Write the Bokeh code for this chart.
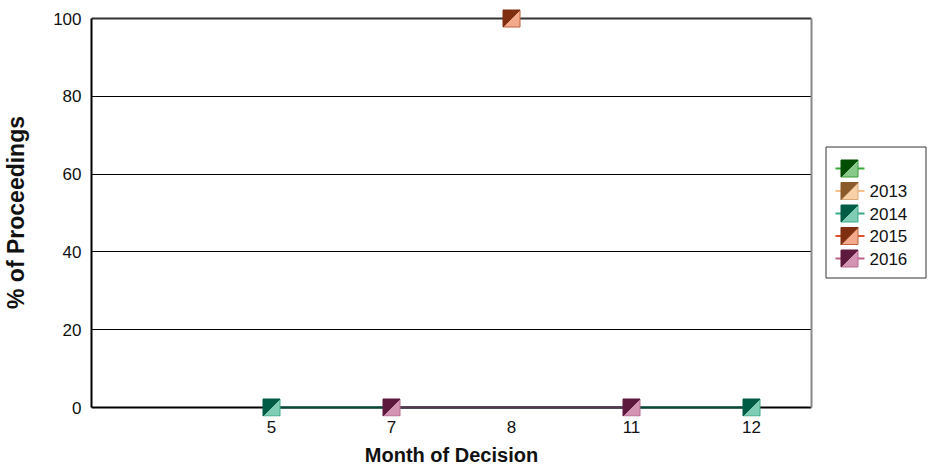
from bokeh.plotting import figure
from bokeh.layouts import row
from bokeh.models import Range1d, FixedTicker, LinearAxis, Span
from bokeh.core.properties import value
from bokeh.embed import file_html
from bokeh.resources import INLINE

# ---------------- data ----------------
months = ["", "5", "7", "8", "11", "12"]          # x categories (tick labels)
series_names = ["", "2013", "2014", "2015", "2016"]
v_blank = [None, None, None, None, None, None]
v_2013 = [None, None, None, None, None, None]
v_2014 = [None, 0, None, None, None, 0]
v_2015 = [None, None, None, 100, None, None]
v_2016 = [None, None, 0, None, 0, None]
series_values = [v_blank, v_2013, v_2014, v_2015, v_2016]
y_ticks = [0, 20, 40, 60, 80, 100]

# ---------------- styles ----------------
dark = ["#004d00", "#8b5a2b", "#005c45", "#7f2f0f", "#5e1a3e"]
light = ["#88c888", "#f8d0a8", "#7fcdb5", "#f2a98c", "#d393b3"]
edge = ["#3a9a3a", "#d8a878", "#40a88a", "#c0603c", "#b86a90"]
legend_line = ["#3aaa3a", "#f8c088", "#3aaa8a", "#e0502a", "#c0608a"]
plot_line = ["#004d00", "#8b5a2b", "#004d3a", "#7f2f0f", "#5b3553"]

FONT = "Liberation Sans"
FRAME_W = 720
CORE_H = 389          # pixel height of 0..100
PAD_T, PAD_B = 10, 9  # extra pixels above/below so markers are not clipped
FRAME_H = CORE_H + PAD_T + PAD_B
HALF = 8.5            # half marker size in px
TOP = 8
BOTTOM = 40

y_min, y_max = y_ticks[0], y_ticks[-1]
upp = (y_max - y_min) / CORE_H   # data units per pixel
x_start, x_end = 0, len(months)
y_start, y_end = y_min - PAD_B * upp, y_max + PAD_T * upp

p = figure(frame_width=FRAME_W, frame_height=FRAME_H,
           x_range=Range1d(x_start, x_end), y_range=Range1d(y_start, y_end),
           output_backend="svg", toolbar_location=None,
           min_border_left=83, min_border_right=10, min_border_top=TOP, min_border_bottom=BOTTOM)
p.outline_line_color = None

# x axis
xa = p.xaxis[0]
xa.ticker = FixedTicker(ticks=[i + 0.5 for i in range(len(months))])
xa.major_label_overrides = {i + 0.5: m for i, m in enumerate(months)}
xa.axis_line_color = None
xa.major_tick_line_color = None
xa.minor_tick_line_color = None
xa.major_label_standoff = -2
xa.major_label_text_font = FONT
xa.major_label_text_font_size = "17px"
xa.major_label_text_color = "#111111"
xa.axis_label = "Month of Decision"
xa.axis_label_text_font = FONT
xa.axis_label_text_font_style = "bold"
xa.axis_label_text_font_size = "20px"
xa.axis_label_text_color = "#111111"
xa.axis_label_standoff = 8

# y axis
ya = p.yaxis[0]
ya.ticker = FixedTicker(ticks=y_ticks)
ya.bounds = (y_min, y_max)
ya.axis_line_color = "black"
ya.axis_line_width = 2
ya.major_tick_line_color = None
ya.minor_tick_line_color = None
ya.major_label_standoff = 4
ya.major_label_text_font = FONT
ya.major_label_text_font_size = "17px"
ya.major_label_text_color = "#111111"
ya.axis_label = "% of Proceedings"
ya.axis_label_text_font = FONT
ya.axis_label_text_font_style = "bold"
ya.axis_label_text_font_size = "23px"
ya.axis_label_text_color = "#111111"
ya.axis_label_standoff = 21

p.xgrid.visible = False
p.ygrid.grid_line_color = "black"
p.ygrid.grid_line_width = 1

# right border line
ra = LinearAxis(ticker=FixedTicker(ticks=[]), bounds=(y_min, y_max),
                axis_line_color="#888888", axis_line_width=2,
                major_tick_line_color=None, minor_tick_line_color=None,
                major_label_text_font_size="0px", major_label_standoff=0)
p.add_layout(ra, "right")

# baseline (x axis line at 0) and top border at 100
p.add_layout(Span(location=y_min, dimension="width", line_color="black", line_width=2, level="underlay"))
p.add_layout(Span(location=y_max, dimension="width", line_color="#333333", line_width=2, level="underlay"))

sx = (x_end - x_start) / FRAME_W
sy = upp

# lines
for k, vals in enumerate(series_values):
    xs = [i + 0.5 for i, v in enumerate(vals) if v is not None]
    ys = [v for v in vals if v is not None]
    if len(xs) >= 2:
        p.line(xs, ys, line_color=plot_line[k], line_width=2)

# split-square markers
for k, vals in enumerate(series_values):
    xs = [i + 0.5 for i, v in enumerate(vals) if v is not None]
    ys = [v for v in vals if v is not None]
    if not xs:
        continue
    hx, hy = HALF * sx, HALF * sy
    lx = [[x + hx, x + hx, x - hx] for x in xs]
    ly = [[y + hy, y - hy, y - hy] for y in ys]
    dx = [[x - hx, x + hx, x - hx] for x in xs]
    dy = [[y + hy, y + hy, y - hy] for y in ys]
    p.patches(lx, ly, fill_color=light[k], line_color=edge[k], line_width=1)
    p.patches(dx, dy, fill_color=dark[k], line_color=dark[k], line_width=1)

# ---------------- legend (separate small figure, pixel units from frame top-left) ----------------
LG_W = 106
BOX_L, BOX_R = 4, 105
BOX_T, BOX_B = 128 + PAD_T, 260 + PAD_T
ITEM_FIRST = BOX_T + 22.0
ITEM_STEP = 22.5
GLYPH_CX = BOX_L + 24
LINE_X0, LINE_X1 = BOX_L + 10, BOX_L + 39
TEXT_X = BOX_L + 44

lg = figure(width=LG_W, frame_height=FRAME_H, x_range=Range1d(0, LG_W), y_range=Range1d(FRAME_H, 0),
            output_backend="svg", toolbar_location=None,
            min_border_left=0, min_border_right=0, min_border_top=TOP, min_border_bottom=BOTTOM)
lg.axis.visible = False
lg.grid.visible = False
lg.outline_line_color = None

lg.quad(left=[BOX_L + 0.5], right=[BOX_R - 0.5], top=[BOX_T + 0.5], bottom=[BOX_B - 0.5],
        fill_color="white", line_color="#333333", line_width=1)
idx = list(range(len(series_names)))
yc = [ITEM_FIRST + ITEM_STEP * i for i in idx]
lg.segment(x0=[LINE_X0] * len(idx), x1=[LINE_X1] * len(idx), y0=yc, y1=yc,
           line_color=legend_line, line_width=2)
lg.patches([[GLYPH_CX + HALF, GLYPH_CX + HALF, GLYPH_CX - HALF] for _ in idx],
           [[y - HALF, y + HALF, y + HALF] for y in yc],
           fill_color=light, line_color=edge, line_width=1)
lg.patches([[GLYPH_CX - HALF, GLYPH_CX + HALF, GLYPH_CX - HALF] for _ in idx],
           [[y - HALF, y - HALF, y + HALF] for y in yc],
           fill_color=dark, line_color=dark, line_width=1)
lg.text(x=[TEXT_X] * len(idx), y=yc, text=series_names, text_baseline="middle",
        text_font=value(FONT), text_font_size="17px", text_color="#111111")

layout = row(p, lg)
open("out.html", "w").write(file_html(layout, INLINE))
